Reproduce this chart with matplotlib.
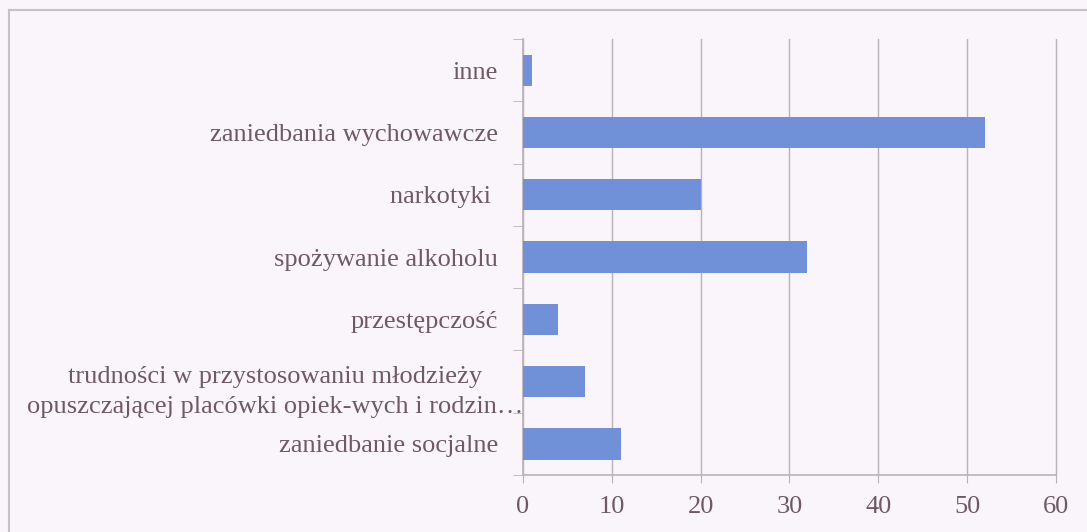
import matplotlib
matplotlib.use('Agg')
import matplotlib.pyplot as plt
import matplotlib.transforms as mtransforms
from matplotlib.lines import Line2D

# Dane z wykresu (od dołu do góry)
kategorie = [
    'zaniedbanie socjalne',
    'trudności w przystosowaniu młodzieży\nopuszczającej placówki opiek-wych i rodzin…',
    'przestępczość',
    'spożywanie alkoholu',
    'narkotyki ',
    'zaniedbania wychowawcze',
    'inne',
]
wartosci = [11, 7, 4, 32, 20, 52, 1]
ticki_x = [0, 10, 20, 30, 40, 50, 60]

kolor_tla = '#f9f5fb'
kolor_slupka = '#7090d8'
kolor_tekstu = '#6e5a64'
kolor_linii = '#b8b2bc'

plt.rcParams['font.family'] = ['Liberation Serif', 'DejaVu Serif']

fig = plt.figure(figsize=(10.87, 5.32), dpi=100, facecolor=kolor_tla)
ax = fig.add_axes([0.481, 0.107, 0.4905, 0.8197], facecolor=kolor_tla)

pozycje = list(range(len(kategorie)))
ax.barh(pozycje, wartosci, height=0.5, color=kolor_slupka, zorder=3)

ax.set_xlim(0, 60)
ax.set_ylim(-0.5, len(kategorie) - 0.5)
ax.set_xticks(ticki_x)
ax.set_xticklabels([str(t) for t in ticki_x])
ax.xaxis.grid(True, color=kolor_linii, linewidth=1.0, zorder=0)
for linia in ax.get_xgridlines():
    linia.set_clip_on(False)

# etykiety kategorii na środku, kreski na granicach
ax.set_yticks(pozycje)
ax.set_yticklabels(kategorie, multialignment='center', linespacing=1.45)
ax.set_yticks([p - 0.5 for p in pozycje] + [len(kategorie) - 0.5], minor=True)
ax.tick_params(axis='y', which='major', length=0, pad=18, labelsize=19, labelcolor=kolor_tekstu)
ax.tick_params(axis='y', which='minor', length=7, color=kolor_linii, direction='out')
ax.tick_params(axis='x', which='major', length=6, color=kolor_linii, pad=9, labelsize=19,
               labelcolor=kolor_tekstu)

# dwuwierszowa etykieta w oryginale sięga aż do osi
dluga = ax.get_yticklabels()[1]
dluga.set_transform(dluga.get_transform() +
                    mtransforms.ScaledTranslation(25 / 100, -4 / 100, fig.dpi_scale_trans))

for s in ['top', 'right']:
    ax.spines[s].set_visible(False)
for s in ['left', 'bottom']:
    ax.spines[s].set_color(kolor_linii)
    ax.spines[s].set_linewidth(1.2)

# ramka wokół wykresu (widoczna u góry i z lewej)
fig.add_artist(Line2D([9 / 1087, 1], [1 - 10 / 532, 1 - 10 / 532], color='#c8c0c8', linewidth=1.5))
fig.add_artist(Line2D([9 / 1087, 9 / 1087], [0, 1 - 10 / 532], color='#c8c0c8', linewidth=1.5))

fig.savefig('out.png', dpi=100, facecolor=kolor_tla)
